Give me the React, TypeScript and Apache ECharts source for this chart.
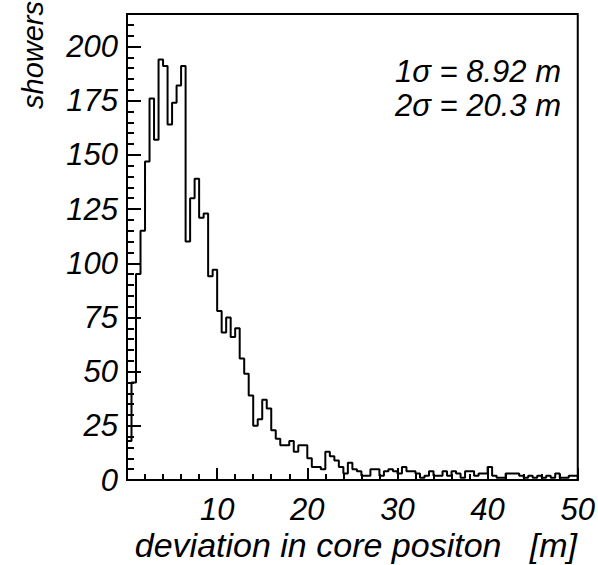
import React, { useEffect, useRef } from "react";
import * as echarts from "echarts";

// Histogram: deviation in core position, 100 bins of 0.5 m from 0 to 50 m
const BIN_WIDTH = 0.5;
const counts: number[] = [
  18, 45, 95, 115, 147, 176, 157, 194, 191, 164,
  174, 182, 191, 110, 130, 139, 121, 123, 94, 97,
  78, 68, 75, 66, 70, 56, 49, 39, 25, 28,
  37, 33, 23, 19, 16, 16, 18, 13, 16, 16,
  10, 6, 6, 5, 13, 11, 9, 6, 3, 8,
  5, 4, 2, 2, 5, 5, 2, 4, 5, 4,
  3, 6, 4, 4, 3, 1, 2, 4, 2, 2,
  4, 2, 4, 3, 1, 4, 4, 2, 3, 3,
  6, 2, 1, 1, 3, 3, 3, 2, 1, 2,
  1, 2, 1, 2, 1, 3, 1, 1, 2, 2,
];
const xTickLabels: number[] = [10, 20, 30, 40, 50];
const yTickLabels: number[] = [0, 25, 50, 75, 100, 125, 150, 175, 200];
const annotations: string[] = ["1σ = 8.92 m", "2σ = 20.3 m"];
const xTitle = "deviation in core positon   [m]";
const yTitle = "showers";

const FONT = "'Liberation Sans', Arial, Helvetica, sans-serif";

export default function App() {
  const ref = useRef<HTMLDivElement>(null);
  useEffect(() => {
    document.body.style.margin = "0";
    if (!ref.current) return;
    const chart = echarts.init(ref.current, null, { renderer: "svg" });
    const stepData: number[][] = [[0, 0]];
    counts.forEach((c, i) => stepData.push([i * BIN_WIDTH, c]));
    const xEnd = counts.length * BIN_WIDTH;
    stepData.push([xEnd, counts[counts.length - 1]]);
    stepData.push([xEnd, 0]);

    chart.setOption({
      animation: false,
      backgroundColor: "#fff",
      grid: {
        left: 127,
        right: 20,
        top: 14,
        bottom: 85,
        show: true,
        borderColor: "#000",
        borderWidth: 2,
        backgroundColor: "transparent",
      },
      xAxis: {
        type: "value",
        min: 0,
        max: 50,
        interval: 10,
        axisLine: { show: true, onZero: false, lineStyle: { color: "#000", width: 2 } },
        axisTick: { show: true, inside: true, length: 12, lineStyle: { color: "#000", width: 2 } },
        minorTick: { show: true, splitNumber: 5, length: 6, lineStyle: { color: "#000", width: 2 } },
        splitLine: { show: false },
        axisLabel: {
          margin: 14,
          color: "#000",
          fontSize: 31,
          fontStyle: "italic",
          fontFamily: FONT,
          formatter: (v: number) => (xTickLabels.includes(v) ? String(v) : ""),
        },
      },
      yAxis: {
        type: "value",
        min: 0,
        max: 215,
        interval: 25,
        axisLine: { show: true, lineStyle: { color: "#000", width: 2 } },
        axisTick: { show: true, inside: true, length: 14, lineStyle: { color: "#000", width: 2 } },
        minorTick: { show: true, splitNumber: 5, length: 7, lineStyle: { color: "#000", width: 2 } },
        splitLine: { show: false },
        axisLabel: {
          margin: 9,
          color: "#000",
          fontSize: 31,
          fontStyle: "italic",
          fontFamily: FONT,
          formatter: (v: number) => (yTickLabels.includes(v) ? String(v) : ""),
        },
      },
      series: [
        {
          type: "line",
          step: "end",
          data: stepData,
          showSymbol: false,
          symbol: "none",
          clip: true,
          lineStyle: { color: "#000", width: 2 },
        },
      ],
      graphic: [
        {
          type: "text",
          x: 577,
          y: 545,
          style: {
            text: xTitle,
            textAlign: "right",
            textVerticalAlign: "middle",
            fill: "#000",
            fontSize: 34,
            fontStyle: "italic",
            fontFamily: FONT,
          },
        },
        {
          type: "text",
          x: 33,
          y: 1,
          rotation: Math.PI / 2,
          style: {
            text: yTitle,
            textAlign: "right",
            textVerticalAlign: "middle",
            fill: "#000",
            fontSize: 29,
            fontStyle: "italic",
            fontFamily: FONT,
          },
        },
        ...annotations.map((t, i) => ({
          type: "text",
          x: 561,
          y: 71 + i * 34,
          style: {
            text: t,
            textAlign: "right",
            textVerticalAlign: "middle",
            fill: "#000",
            fontSize: 31,
            fontStyle: "italic",
            fontFamily: FONT,
          },
        })),
      ],
    });
    return () => chart.dispose();
  }, []);
  return <div ref={ref} style={{ width: 598, height: 565 }} />;
}
